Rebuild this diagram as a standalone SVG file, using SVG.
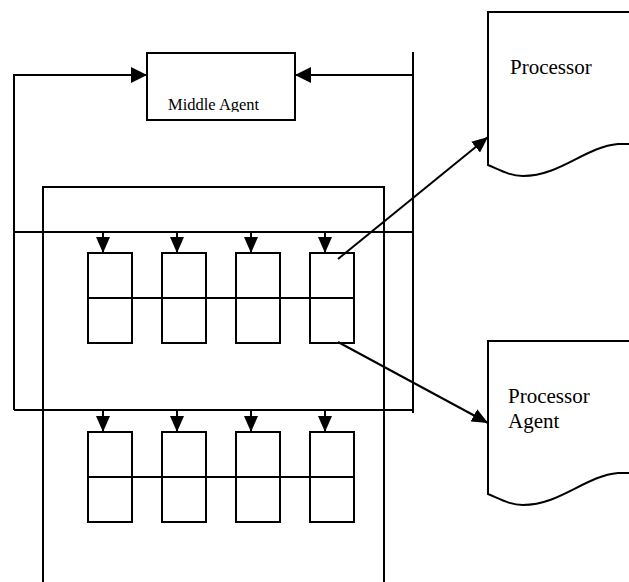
<svg xmlns="http://www.w3.org/2000/svg" width="629" height="582" viewBox="0 0 629 582">
  <style>
    .ln { fill: none; stroke: #000; stroke-width: 2; }
    .box { fill: #fff; stroke: #000; stroke-width: 2; }
    .lbl { font-family: "Liberation Serif", "Times New Roman", serif; fill: #000; }
  </style>
  <defs>
    <marker id="tri" markerUnits="userSpaceOnUse" markerWidth="16" markerHeight="14" refX="16" refY="7" orient="auto" viewBox="0 0 16 14">
      <path d="M0,0 L16,7 L0,14 z" fill="#000"/>
    </marker>
    <marker id="tri-lg" markerUnits="userSpaceOnUse" markerWidth="16" markerHeight="16" refX="16" refY="8" orient="auto" viewBox="0 0 16 16">
      <path d="M0,0 L16,8 L0,16 z" fill="#000"/>
    </marker>
    <clipPath id="mid-clip">
      <rect x="148" y="54" width="146" height="58"/>
    </clipPath>
  </defs>

  <!-- outer container holding the two queue rows -->
  <g id="container">
    <path class="ln" d="M43,590 V187 H384 V590"/>
  </g>

  <!-- middle agent -->
  <g id="middle-agent">
    <rect class="box" x="147" y="53" width="148" height="67"/>
    <text class="lbl" x="168" y="110" font-size="16.5" clip-path="url(#mid-clip)">Middle Agent</text>
  </g>

  <!-- processor document -->
  <g id="processor">
    <path class="box" d="M488,165 V12 H640 V144 H618 C585,147 560,176 523,176 C510,176 500,170 488,165 z"/>
    <text class="lbl" x="510" y="74" font-size="21">Processor</text>
  </g>

  <!-- processor agent document -->
  <g id="processor-agent">
    <path class="box" d="M488,494 V341 H640 V473 H618 C585,476 560,505 523,505 C510,505 500,499 488,494 z"/>
    <text class="lbl" x="508" y="403" font-size="21">Processor</text>
    <text class="lbl" x="508" y="428" font-size="21">Agent</text>
  </g>

  <!-- upper row of cells -->
  <g id="row-upper">
    <rect class="box" x="88" y="253" width="44" height="90"/>
    <rect class="box" x="162" y="253" width="44" height="90"/>
    <rect class="box" x="236" y="253" width="44" height="90"/>
    <rect class="box" x="310" y="253" width="44" height="90"/>
    <path class="ln" d="M88,298 H354"/>
  </g>

  <!-- lower row of cells -->
  <g id="row-lower">
    <rect class="box" x="88" y="432" width="44" height="90"/>
    <rect class="box" x="162" y="432" width="44" height="90"/>
    <rect class="box" x="236" y="432" width="44" height="90"/>
    <rect class="box" x="310" y="432" width="44" height="90"/>
    <path class="ln" d="M88,477 H354"/>
  </g>

  <!-- connectors -->
  <g id="connectors">
    <!-- loop back into the middle agent -->
    <path class="ln" d="M14,410 V75 H147" marker-end="url(#tri-lg)"/>
    <path class="ln" d="M413,52 V413"/>
    <path class="ln" d="M413,75 H295" marker-end="url(#tri-lg)"/>
    <!-- bus lines -->
    <path class="ln" d="M14,232 H413"/>
    <path class="ln" d="M14,410 H413"/>
    <!-- feeds into upper row -->
    <path class="ln" d="M103,232 V253" marker-end="url(#tri)"/>
    <path class="ln" d="M177,232 V253" marker-end="url(#tri)"/>
    <path class="ln" d="M251,232 V253" marker-end="url(#tri)"/>
    <path class="ln" d="M325,232 V253" marker-end="url(#tri)"/>
    <!-- feeds into lower row -->
    <path class="ln" d="M103,410 V432" marker-end="url(#tri)"/>
    <path class="ln" d="M177,410 V432" marker-end="url(#tri)"/>
    <path class="ln" d="M251,410 V432" marker-end="url(#tri)"/>
    <path class="ln" d="M325,410 V432" marker-end="url(#tri)"/>
    <!-- links out to the processors -->
    <path class="ln" d="M338,259 L488,137" marker-end="url(#tri)"/>
    <path class="ln" d="M338,342 L488,423" marker-end="url(#tri)"/>
  </g>
</svg>
